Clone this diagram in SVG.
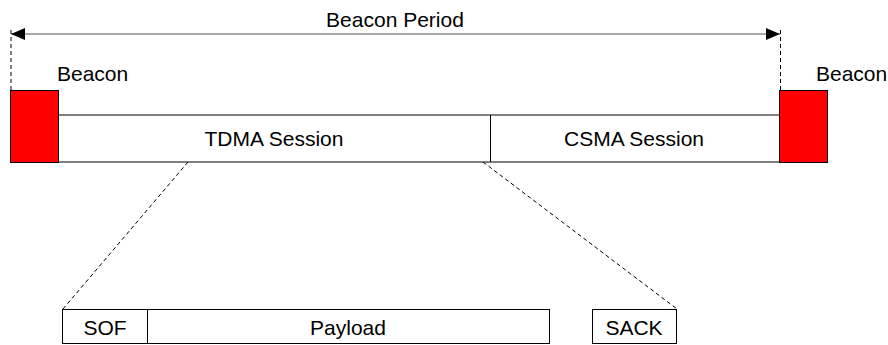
<svg xmlns="http://www.w3.org/2000/svg" width="888" height="345" viewBox="0 0 888 345">
<style>
text{font-family:"Liberation Sans",Arial,sans-serif;font-size:21px;fill:#000}
.box{fill:#fff;stroke:#000;stroke-width:1}
.red{fill:#ff0000;stroke:#000;stroke-width:1}
.dash{stroke:#000;stroke-width:1;stroke-dasharray:4 3;fill:none}
</style>
<defs>
<marker id="ah" markerWidth="14" markerHeight="12" refX="14" refY="6" orient="auto-start-reverse" markerUnits="userSpaceOnUse">
<path d="M0,0 L14,6 L0,12 Z" fill="#000"/>
</marker>
</defs>
<rect width="888" height="345" fill="#fff"/>
<g id="connectors">
<line x1="11" y1="34" x2="780" y2="34" stroke="#555" stroke-width="1" marker-start="url(#ah)" marker-end="url(#ah)"/>
<line class="dash" x1="11" y1="30" x2="11" y2="100" stroke-dasharray="6 2 1 2"/>
<line class="dash" x1="780.5" y1="30" x2="780.5" y2="100"/>
<line class="dash" x1="188" y1="162" x2="63" y2="309"/>
<line class="dash" x1="483" y1="162" x2="677" y2="309"/>
</g>
<g id="period-label"><text x="395" y="27" text-anchor="middle">Beacon Period</text></g>
<g id="sessions">
<rect class="box" x="58" y="115" width="722" height="47"/>
<line x1="490.5" y1="115" x2="490.5" y2="162" stroke="#000"/>
<text x="274" y="146" text-anchor="middle">TDMA Session</text>
<text x="634" y="146" text-anchor="middle">CSMA Session</text>
</g>
<g id="beacon-left">
<rect class="red" x="10.5" y="90.5" width="48" height="72"/>
<text x="57" y="81">Beacon</text>
</g>
<g id="beacon-right">
<rect class="red" x="779.5" y="90.5" width="48" height="72"/>
<text x="816" y="81">Beacon</text>
</g>
<g id="frame">
<rect class="box" x="62.5" y="309.5" width="85" height="34"/>
<text x="105" y="335" text-anchor="middle">SOF</text>
<rect class="box" x="147.5" y="309.5" width="402" height="34"/>
<text x="348" y="335" text-anchor="middle">Payload</text>
</g>
<g id="sack">
<rect class="box" x="592.5" y="309.5" width="84" height="34"/>
<text x="634" y="335" text-anchor="middle">SACK</text>
</g>
</svg>
